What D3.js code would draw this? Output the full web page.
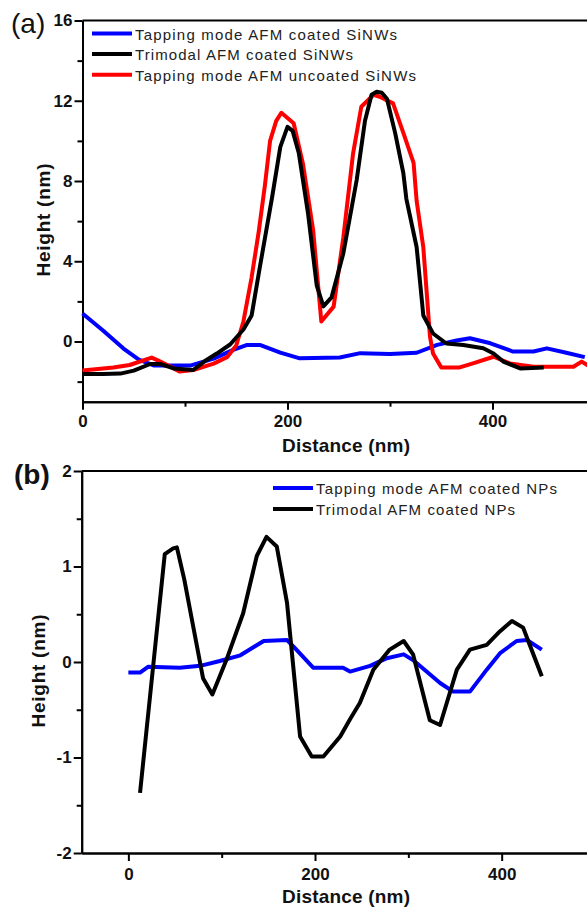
<!DOCTYPE html>
<html>
<head>
<meta charset="utf-8">
<script src="https://cdn.jsdelivr.net/npm/d3@7"></script>
<style>
  body { margin: 0; background: #fff; }
  svg { display: block; font-family: "Liberation Sans", Arial, sans-serif; }
</style>
</head>
<body>
<svg id="chart" width="587" height="911"></svg>
<script>
// panel (a) - SiNWs profiles
const aBlueX = [0, 20, 40, 55, 70, 105, 128, 147, 160, 173, 193, 212, 251, 271, 300, 326, 346, 365, 378, 398, 420, 440, 453, 472, 490];
const aBlueY = [1.4, 0.55, -0.35, -0.9, -1.2, -1.2, -0.85, -0.42, -0.18, -0.17, -0.55, -0.84, -0.8, -0.58, -0.62, -0.56, -0.17, 0.05, 0.16, -0.09, -0.5, -0.5, -0.34, -0.56, -0.78];

const aRedX = [0, 30, 46, 67.5, 76, 95, 108, 128, 141, 150, 157, 165, 172, 178, 183, 189, 194, 206, 215, 225, 233, 245, 254.5, 264, 272, 284, 290, 303, 313, 323, 326, 332.5, 339, 342, 350, 368, 381, 401, 417, 440, 479, 487, 495];
const aRedY = [-1.45, -1.3, -1.17, -0.8, -1.0, -1.5, -1.42, -1.1, -0.78, -0.2, 1.0, 3.2, 5.5, 7.8, 10.0, 11.0, 11.4, 10.88, 8.88, 5.56, 1.0, 1.74, 5.2, 9.38, 11.7, 12.3, 12.2, 11.87, 10.4, 8.9, 7.0, 4.7, 0.24, -0.6, -1.29, -1.29, -1.09, -0.76, -1.09, -1.26, -1.26, -1.0, -1.26];

const aBlackX = [0, 20, 37, 50, 66, 76, 89, 108, 121, 131, 144, 157, 165, 173, 185, 193, 200, 205, 211, 220, 228.5, 235, 243, 254.5, 267.5, 275.6, 282, 287, 292, 297, 305, 313, 316, 326, 332.5, 342, 355, 371.5, 391, 401, 410.5, 427, 450];
const aBlackY = [-1.62, -1.62, -1.6, -1.45, -1.12, -1.12, -1.34, -1.42, -0.92, -0.6, -0.15, 0.6, 1.3, 3.7, 7.2, 9.7, 10.7, 10.5, 9.4, 6.4, 2.8, 1.75, 2.2, 4.4, 8.05, 11.0, 12.3, 12.45, 12.4, 12.1, 10.4, 8.4, 7.1, 4.7, 1.3, 0.4, -0.1, -0.17, -0.34, -0.6, -1.0, -1.34, -1.3];

const aLegend = ["Tapping mode AFM coated SiNWs", "Trimodal AFM coated SiNWs", "Tapping mode AFM uncoated SiNWs"];

// panel (b) - NPs profiles
const bBlueX = [0, 12.5, 21, 55, 77, 98, 120, 145, 170, 177, 198, 216, 230, 237.5, 259, 277, 295, 305, 334, 348, 366, 384, 398, 416, 427, 443];
const bBlueY = [-0.11, -0.11, -0.05, -0.06, -0.04, 0.01, 0.07, 0.22, 0.23, 0.16, -0.06, -0.06, -0.06, -0.1, -0.04, 0.04, 0.08, 0.02, -0.22, -0.31, -0.31, -0.08, 0.09, 0.22, 0.23, 0.13];

const bBlackX = [12.5, 39, 48, 52, 60, 80, 90, 105, 123, 137.6, 148, 159, 170, 184, 196.5, 209, 227, 237.5, 248, 262.5, 280, 295, 305, 323, 334, 352, 366, 384, 398, 411, 423, 430, 443];
const bBlackY = [-1.37, 1.13, 1.19, 1.2, 0.86, -0.17, -0.34, 0.02, 0.51, 1.11, 1.31, 1.21, 0.62, -0.78, -0.99, -0.99, -0.78, -0.6, -0.43, -0.08, 0.13, 0.22, 0.08, -0.61, -0.66, -0.08, 0.13, 0.18, 0.32, 0.43, 0.36, 0.18, -0.15];

const bLegend = ["Tapping mode AFM coated NPs", "Trimodal AFM coated NPs"];

const svg = d3.select("#chart");

function zip(xs, ys) {
  return xs.map((x, i) => [x, ys[i]]);
}

// plain labels: "-1" with a hyphen, no trailing ".0"
const plain = (d) => String(d);

function drawPanel(cfg) {
  const x = d3.scaleLinear().domain(cfg.xDomain).range(cfg.xRange);
  const y = d3.scaleLinear().domain(cfg.yDomain).range(cfg.yRange);
  const g = svg.append("g");

  // minor ticks first, then the labelled axis on top
  g.append("g")
    .attr("transform", `translate(0,${cfg.yRange[0]})`)
    .call(d3.axisBottom(x).tickValues(cfg.xMinor).tickSize(5).tickSizeOuter(0).tickFormat(""));
  g.append("g")
    .attr("transform", `translate(${cfg.xRange[0]},0)`)
    .call(d3.axisLeft(y).tickValues(cfg.yMinor).tickSize(5).tickSizeOuter(0).tickFormat(""));

  g.append("g")
    .attr("transform", `translate(0,${cfg.yRange[0]})`)
    .call(d3.axisBottom(x).tickValues(cfg.xMajor).tickFormat(plain).tickSize(8).tickSizeOuter(0).tickPadding(cfg.xPad));
  g.append("g")
    .attr("transform", `translate(${cfg.xRange[0]},0)`)
    .call(d3.axisLeft(y).tickValues(cfg.yMajor).tickFormat(plain).tickSize(8).tickSizeOuter(0).tickPadding(2));

  g.selectAll(".domain, .tick line").attr("stroke", "#000").attr("stroke-width", 2);
  g.selectAll(".tick text")
    .attr("fill", "#111")
    .style("font-size", "17px")
    .style("font-weight", "bold")
    .style("font-family", "'Liberation Sans', Arial, sans-serif");

  // top frame line
  g.append("line")
    .attr("x1", cfg.xRange[0]).attr("x2", cfg.xRange[1])
    .attr("y1", cfg.yRange[1]).attr("y2", cfg.yRange[1])
    .attr("stroke", "#000").attr("stroke-width", 2);

  const line = d3.line().x((d) => x(d[0])).y((d) => y(d[1]));
  cfg.series.forEach((s) => {
    g.append("path")
      .datum(zip(s.xs, s.ys))
      .attr("fill", "none")
      .attr("stroke", s.color)
      .attr("stroke-width", 4)
      .attr("stroke-linejoin", "round")
      .attr("d", line);
  });

  // legend
  cfg.legend.forEach((lab, i) => {
    const ly = cfg.legY[i];
    g.append("line")
      .attr("x1", cfg.legX[0]).attr("x2", cfg.legX[1])
      .attr("y1", ly).attr("y2", ly)
      .attr("stroke", cfg.legColors[i]).attr("stroke-width", 4);
    g.append("text")
      .attr("x", cfg.legX[1] + 3)
      .attr("y", ly + 6)
      .attr("fill", "#222")
      .attr("textLength", cfg.legLen[i])
      .attr("lengthAdjust", "spacing")
      .style("font-size", "15px")
      .text(lab);
  });

  // axis titles
  g.append("text")
    .attr("x", 346).attr("y", cfg.xTitleY)
    .attr("text-anchor", "middle")
    .attr("textLength", 128).attr("lengthAdjust", "spacing")
    .style("font-size", "19px").style("font-weight", "bold")
    .attr("fill", "#111")
    .text("Distance (nm)");
  g.append("text")
    .attr("transform", `translate(${cfg.yTitleX},${cfg.yTitleY}) rotate(-90)`)
    .attr("text-anchor", "middle")
    .attr("textLength", 113).attr("lengthAdjust", "spacing")
    .style("font-size", "19px").style("font-weight", "bold")
    .attr("fill", "#111")
    .text("Height (nm)");

  // panel letter
  g.append("text")
    .attr("x", cfg.tag.x).attr("y", cfg.tag.y)
    .style("font-size", cfg.tag.size + "px")
    .style("font-weight", cfg.tag.weight)
    .attr("fill", "#111")
    .text(cfg.tag.text);
}

drawPanel({
  xDomain: [0, 500], xRange: [82.5, 595],
  yDomain: [-3, 16], yRange: [401.7, 20.5],
  xMajor: [0, 200, 400], xMinor: [100, 300],
  yMajor: [0, 4, 8, 12, 16], yMinor: [-2, 2, 6, 10, 14],
  xPad: 5,
  series: [
    { xs: aBlueX, ys: aBlueY, color: "#0000ff" },
    { xs: aRedX, ys: aRedY, color: "#ff0000" },
    { xs: aBlackX, ys: aBlackY, color: "#000000" }
  ],
  legend: aLegend,
  legColors: ["#0000ff", "#000000", "#ff0000"],
  legX: [92, 132], legY: [33.5, 54, 74.7], legLen: [262, 218, 281],
  xTitleY: 452, yTitleX: 50, yTitleY: 220,
  tag: { text: "(a)", x: 11, y: 33, size: 28, weight: "normal" }
});

drawPanel({
  xDomain: [-50, 500], xRange: [81.7, 595],
  yDomain: [-2, 2], yRange: [853, 471],
  xMajor: [0, 200, 400], xMinor: [100, 300],
  yMajor: [-2, -1, 0, 1, 2], yMinor: [-1.5, -0.5, 0.5, 1.5],
  xPad: 7,
  series: [
    { xs: bBlueX, ys: bBlueY, color: "#0000ff" },
    { xs: bBlackX, ys: bBlackY, color: "#000000" }
  ],
  legend: bLegend,
  legColors: ["#0000ff", "#000000"],
  legX: [273, 313], legY: [488, 509], legLen: [241, 199],
  xTitleY: 903, yTitleX: 45, yTitleY: 671,
  tag: { text: "(b)", x: 14, y: 484, size: 28, weight: "bold" }
});
</script>
</body>
</html>
